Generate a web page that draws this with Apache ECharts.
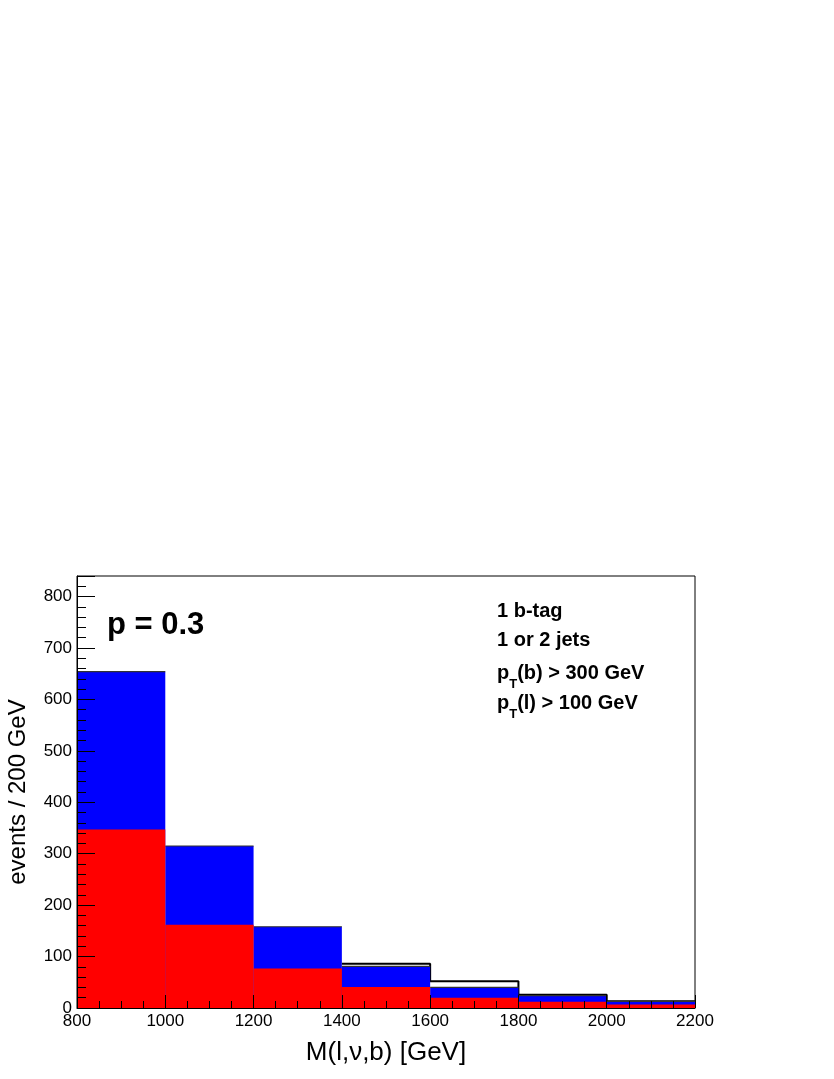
<!DOCTYPE html>
<html>
<head>
<meta charset="utf-8">
<script src="https://cdn.jsdelivr.net/npm/echarts@6/dist/echarts.min.js"></script>
<style>
html, body { margin: 0; padding: 0; background: #fff; }
#chart { width: 834px; height: 1079px; }
</style>
</head>
<body>
<div id="chart"></div>
<script>
// bin edges of M(l,nu,b) in GeV
const binEdges = [800, 1000, 1200, 1400, 1600, 1800, 2000, 2200];
// red component (drawn in front)
const redCounts = [347, 162, 77, 41, 20, 12, 7];
// blue = total of stack (drawn behind red)
const blueCounts = [654, 315, 158, 81, 40, 24, 13];
// black outline histogram, only visible from 1400 GeV on (hidden behind the stack below)
const outlineCounts = [null, null, null, 86, 52, 26, 13];
const cutLines = ['1 b-tag', '1 or 2 jets'];

const FONT = '"Liberation Sans", Arial, Helvetica, sans-serif';

function binData(counts) {
  return counts.map((c, i) => [binEdges[i], binEdges[i + 1], c]);
}

function makeBarItem(topColor) {
  return function (params, api) {
    const p0 = api.coord([api.value(0), 0]);
    const p1 = api.coord([api.value(1), api.value(2)]);
    const children = [{
      type: 'rect',
      shape: { x: p0[0], y: p1[1], width: p1[0] - p0[0], height: p0[1] - p1[1] },
      style: { fill: api.visual('color') }
    }];
    if (topColor) {
      children.push({
        type: 'line',
        shape: { x1: p0[0], y1: p1[1], x2: p1[0], y2: p1[1] },
        style: { stroke: topColor, lineWidth: 1.2 }
      });
    }
    return { type: 'group', children: children };
  };
}

// step outline: one point per edge, last bin repeated at the right edge
const outlineData = binEdges.map((e, i) => [e, outlineCounts[Math.min(i, outlineCounts.length - 1)]]);

const ptRich = {
  m: { font: 'bold 20px ' + FONT, fill: '#000', lineHeight: 21, verticalAlign: 'top' },
  s: { font: 'bold 13px ' + FONT, fill: '#000', lineHeight: 13, padding: [15, 0, 0, 0], verticalAlign: 'top' }
};

const chart = echarts.init(document.getElementById('chart'));
chart.setOption({
  animation: false,
  backgroundColor: '#fff',
  textStyle: { fontFamily: FONT },
  grid: {
    left: 77, right: 139, top: 576, bottom: 71,
    containLabel: false, outerBoundsMode: 'none',
    show: true, borderColor: '#000', borderWidth: 1, backgroundColor: 'transparent'
  },
  xAxis: {
    type: 'value', min: 800, max: 2200, interval: 200, z: 10,
    name: 'M(l,\u03bd,b) [GeV]', nameLocation: 'middle', nameGap: 32,
    nameTextStyle: { fontSize: 26, color: '#000', fontFamily: FONT },
    axisLine: { show: true, onZero: false, lineStyle: { color: '#000', width: 1 } },
    axisTick: { show: true, inside: true, length: 13, lineStyle: { color: '#000' } },
    minorTick: { show: true, splitNumber: 4, length: 7, lineStyle: { color: '#000' } },
    axisLabel: { fontSize: 17, color: '#000', margin: 5, fontFamily: FONT, formatter: v => String(v) },
    splitLine: { show: false }
  },
  yAxis: [{
    type: 'value', min: 0, max: 840, interval: 100, z: 10,
    name: 'events / 200 GeV', nameLocation: 'middle', nameGap: 47,
    nameTextStyle: { fontSize: 24, color: '#000', fontFamily: FONT },
    axisLine: { show: true, lineStyle: { color: '#000', width: 1 } },
    axisTick: { show: true, inside: true, length: 18, lineStyle: { color: '#000' } },
    axisLabel: {
      fontSize: 17, color: '#000', margin: 5, fontFamily: FONT,
      formatter: v => (v % 100 === 0 ? String(v) : '')
    },
    splitLine: { show: false }
  }, {
    // minor ticks every 20
    type: 'value', min: 0, max: 840, interval: 20, position: 'left', z: 10,
    axisLine: { show: false },
    axisTick: { show: true, inside: true, length: 9, lineStyle: { color: '#000' } },
    axisLabel: { show: false },
    splitLine: { show: false }
  }],
  series: [{
    type: 'line',
    data: outlineData,
    step: 'end',
    symbol: 'none',
    connectNulls: false,
    lineStyle: { color: '#000', width: 2 },
    z: 1
  }, {
    type: 'custom',
    renderItem: makeBarItem('#333'),
    data: binData(blueCounts),
    encode: { x: [0, 1], y: 2 },
    itemStyle: { color: '#0000ff' },
    z: 2
  }, {
    type: 'custom',
    renderItem: makeBarItem(null),
    data: binData(redCounts),
    encode: { x: [0, 1], y: 2 },
    itemStyle: { color: '#ff0000' },
    z: 3
  }],
  graphic: [{
    type: 'text', left: 107, top: 610,
    style: { text: 'p = 0.3', font: 'bold 31px ' + FONT, fill: '#000' }
  }, {
    type: 'text', left: 497, top: 601,
    style: { text: cutLines[0], font: 'bold 20px ' + FONT, fill: '#000' }
  }, {
    type: 'text', left: 497, top: 630,
    style: { text: cutLines[1], font: 'bold 20px ' + FONT, fill: '#000' }
  }, {
    type: 'text', left: 497, top: 663,
    style: { text: '{m|p}{s|T}{m|(b) > 300 GeV}', rich: ptRich }
  }, {
    type: 'text', left: 497, top: 693,
    style: { text: '{m|p}{s|T}{m|(l) > 100 GeV}', rich: ptRich }
  }]
});
</script>
</body>
</html>
